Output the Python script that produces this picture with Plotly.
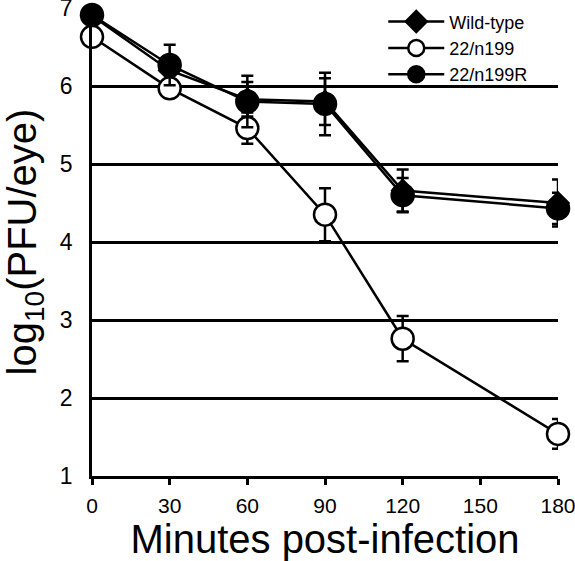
import plotly.graph_objects as go

minutes = [0, 30, 60, 90, 120, 180]
wild_type = [6.90, 6.20, 5.83, 5.80, 4.66, 4.50]
wild_type_err = [0.05, 0.15, 0.22, 0.30, 0.27, 0.30]
n199 = [6.63, 5.97, 5.46, 4.35, 2.76, 1.54]
n199_err = [0.05, 0.08, 0.20, 0.34, 0.29, 0.19]
n199R = [6.91, 6.27, 5.80, 5.77, 4.60, 4.43]
n199R_err = [0.05, 0.26, 0.33, 0.40, 0.22, 0.20]
x_ticks = [0, 30, 60, 90, 120, 150, 180]
y_ticks = [1, 2, 3, 4, 5, 6, 7]

FONT = "Arial, Liberation Sans, Helvetica, sans-serif"

fig = go.Figure()

def add(name, y, err, symbol, fill, size):
    fig.add_trace(go.Scatter(
        x=minutes, y=y, name=name, mode="lines+markers",
        line=dict(color="black", width=2.5),
        marker=dict(symbol=symbol, size=size, color=fill,
                    line=dict(color="black", width=2.5)),
        error_y=dict(type="data", array=err, color="black", thickness=2.5, width=6),
        cliponaxis=False,
    ))

add("Wild-type", wild_type, wild_type_err, "diamond", "black", 16)
add("22/n199", n199, n199_err, "circle", "white", 22)
add("22/n199R", n199R, n199R_err, "circle", "black", 22)

fig.update_layout(
    width=575, height=561,
    margin=dict(l=92, r=17, t=8, b=85, autoexpand=False),
    paper_bgcolor="white", plot_bgcolor="white",
    font=dict(family=FONT, color="black"),
    showlegend=True,
    legend=dict(x=0.625, y=1.01, xanchor="left", yanchor="top",
                bgcolor="rgba(0,0,0,0)", font=dict(size=18, family=FONT),
                tracegroupgap=0, itemwidth=56),
    xaxis=dict(range=[0, 180], tickvals=x_ticks, showgrid=False, zeroline=False,
               showline=True, linecolor="black", linewidth=2.5, automargin=False,
               ticks="outside", ticklen=6, tickwidth=2.5, tickcolor="black",
               ticklabeloverflow="allow", ticklabelstandoff=3,
               tickfont=dict(size=21, family=FONT),
               title=dict(text="Minutes post-infection", font=dict(size=40, family=FONT), standoff=6)),
    yaxis=dict(range=[1, 7], tickvals=y_ticks, showgrid=True, gridcolor="black", gridwidth=2.5,
               zeroline=False, showline=True, linecolor="black", linewidth=2.5, automargin=False,
               ticks="", tickfont=dict(size=23, family=FONT), ticklabelstandoff=12,
               ticklabeloverflow="allow",
               title=dict(text="log<sub>10</sub>(PFU/eye)", font=dict(size=40, family=FONT), standoff=17)),
)

fig.write_html("out.html", config={"displayModeBar": False},
               post_script="document.body.style.margin='0px';")
